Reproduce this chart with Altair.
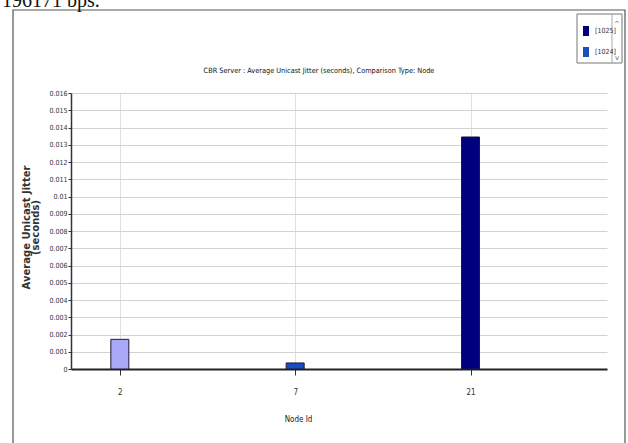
import altair as alt
import pandas as pd

# CBR server jitter per node
node_ids = ["2", "7", "21"]
jitter_s = [0.00172, 0.00035, 0.01345]
app_series = ["[1023]", "[1024]", "[1025]"]
series_colors = ["#a8a8f6", "#1c4cc2", "#00007e"]
legend_items = ["[1025]", "[1024]"]
y_tick_values = [0.0, 0.001, 0.002, 0.003, 0.004, 0.005, 0.006, 0.007, 0.008,
                 0.009, 0.01, 0.011, 0.012, 0.013, 0.014, 0.015, 0.016]
page_note = "196171 bps."

title_text = "CBR Server : Average Unicast Jitter (seconds), Comparison Type: Node"
narrow_font = "Liberation Sans Narrow, DejaVu Sans Condensed, sans-serif"

df = pd.DataFrame({
    "pos": list(range(len(node_ids))),
    "node": node_ids,
    "jitter": jitter_s,
    "series": app_series,
})

label_expr = "[" + ",".join(f"'{n}'" for n in node_ids) + "][datum.value]"

bars = alt.Chart(df).mark_bar(size=18, stroke="#1a1a3a", strokeWidth=1).encode(
    x=alt.X(
        "pos:Q",
        scale=alt.Scale(domain=[-0.25, 2.75], nice=False, zero=False),
        axis=alt.Axis(
            values=list(range(len(node_ids))),
            labelExpr=label_expr,
            title="Node Id",
            titleX=227, titleY=46,
            titleFont=narrow_font, titleFontSize=8, titleFontWeight="normal",
            titleColor="#222",
            labelFont=narrow_font, labelFontSize=8, labelColor="#333",
            labelPadding=13,
            tickSize=6, tickColor="#333", tickWidth=1,
            domainColor="#222", domainWidth=2,
            gridColor="#e0e0e0", gridWidth=1,
        ),
    ),
    y=alt.Y(
        "jitter:Q",
        scale=alt.Scale(domain=[0, 0.016], nice=False),
        axis=alt.Axis(
            values=y_tick_values,
            format=".3~f",
            title=["Average Unicast Jitter", "(seconds)"],
            titleX=-50, titleY=134,
            titleAngle=270, titleAlign="center", titleBaseline="top",
            titleLineHeight=9,
            titleFont="DejaVu Sans", titleFontSize=10, titleFontWeight="bold",
            titleColor="#333",
            labelFont=narrow_font, labelFontSize=7, labelColor="#333",
            labelPadding=1,
            tickSize=3, tickColor="#333",
            domainColor="#333", domainWidth=1.5,
            gridColor="#d2d2d2", gridWidth=1,
        ),
    ),
    color=alt.Color(
        "series:N",
        scale=alt.Scale(domain=app_series, range=series_colors),
        legend=alt.Legend(
            values=legend_items, title=None,
            orient="none", legendX=510, legendY=-67,
            symbolType="M-0.6,-1H0.6V1H-0.6Z", symbolSize=100,
            symbolStrokeWidth=0,
            labelFont=narrow_font, labelFontSize=7, labelColor="#333",
            labelOffset=4, rowPadding=11,
        ),
    ),
)

one = pd.DataFrame({"k": [0]})

# outer frame of the chart panel
frame = alt.Chart(one).mark_rect(filled=False, stroke="#555", strokeWidth=1.2).encode(
    x=alt.value(-58), x2=alt.value(554), y=alt.value(-83), y2=alt.value(420)
)

# chart heading, centred on the panel
heading = alt.Chart(pd.DataFrame({"t": [title_text]})).mark_text(
    font=narrow_font, fontSize=7.3, color="#111", align="center", baseline="middle"
).encode(x=alt.value(248), y=alt.value(-22), text="t:N")

# legend box with its scroll column
legend_box = alt.Chart(one).mark_rect(filled=False, stroke="#777", strokeWidth=1).encode(
    x=alt.value(506), x2=alt.value(551), y=alt.value(-79), y2=alt.value(-30)
)
legend_split = alt.Chart(one).mark_rule(stroke="#aaa", strokeWidth=1).encode(
    x=alt.value(541), y=alt.value(-79), y2=alt.value(-30)
)
scroll_arrows = alt.Chart(pd.DataFrame({"a": ["^", "v"], "yy": [-69, -35]})).mark_text(
    font="DejaVu Sans", fontSize=7, color="#666"
).encode(x=alt.value(546), y=alt.Y("yy:Q", scale=None), text="a:N")

note = alt.Chart(pd.DataFrame({"t": [page_note]})).mark_text(
    font="Liberation Serif", fontSize=20, align="left", baseline="alphabetic", color="#111"
).encode(x=alt.value(-69), y=alt.value(-86), text="t:N")

chart = alt.layer(frame, heading, bars, legend_box, legend_split, scroll_arrows, note).properties(
    width=536,
    height=276,
    padding={"left": 71, "top": 93, "right": 21, "bottom": 74},
    autosize=alt.AutoSizeParams(type="none"),
    background="white",
).configure_view(stroke=None)

chart.save("out.html", embed_options={"renderer": "svg", "actions": False})
